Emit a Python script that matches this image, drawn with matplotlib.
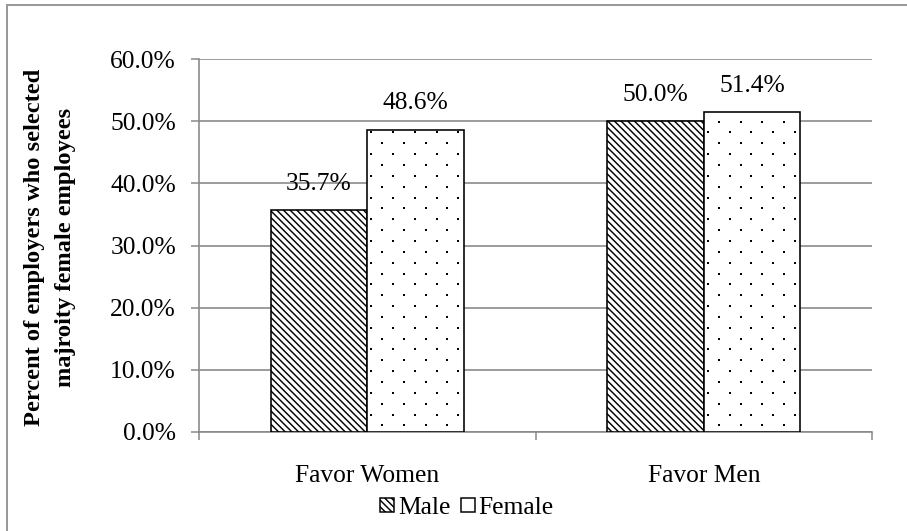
import numpy as np
import matplotlib
matplotlib.use("Agg")
import matplotlib.pyplot as plt
from matplotlib.patches import Rectangle, Patch
from matplotlib.ticker import FixedLocator

# Data
categories = ["Favor Women", "Favor Men"]
series_names = ["Male", "Female"]
male_values = [35.7, 50.0]
female_values = [48.6, 51.4]
ytick_values = [0, 10, 20, 30, 40, 50, 60]
ytick_labels = ["0.0%", "10.0%", "20.0%", "30.0%", "40.0%", "50.0%", "60.0%"]
ylabel_text = "Percent of employers who selected\nmajroity female employees"

DPI = 80
W, H = 907, 531
plt.rcParams["font.family"] = ["Liberation Serif", "DejaVu Serif"]
plt.rcParams["hatch.linewidth"] = 1.3
FS = 23
GRID = "#878787"
HATCH = "\\\\\\\\"

def px(v):
    return v * 72.0 / DPI

fig = plt.figure(figsize=(W / DPI, H / DPI), dpi=DPI)
ax = fig.add_axes([199 / W, 1 - 432 / H, (872 - 199) / W, (432 - 59) / H])

x = np.arange(len(categories))
bw = 0.287

male_bars = ax.bar(x - bw / 2, male_values, bw, facecolor="white",
                   edgecolor="black", hatch=HATCH, linewidth=px(1.6), zorder=3)
female_bars = ax.bar(x + bw / 2, female_values, bw, facecolor="white",
                     edgecolor="black", linewidth=px(1.6), zorder=3)

# dotted fill for the Female bars: staggered grid of small squares
dx, dy = 0.0645, 1.745
for bar in female_bars:
    x0, w = bar.get_x(), bar.get_width()
    top = bar.get_height()
    xs, ys = [], []
    row = 0
    yy = 41.2 - dy * np.ceil(41.2 / dy)
    while yy < top + dy:
        start = x0 + 0.0125 + (dx / 2 if row % 2 else 0)
        cols = np.arange(start - dx, x0 + w + dx, dx)
        xs.extend(cols)
        ys.extend([yy] * len(cols))
        yy += dy
        row += 1
    sc = ax.scatter(xs, ys, s=px(2.4) ** 2, marker="s", color="black",
                    linewidths=0, zorder=4)
    sc.set_clip_path(bar)

# value labels
for bars, vals in ((male_bars, male_values), (female_bars, female_values)):
    for b, v in zip(bars, vals):
        ax.annotate(f"{v:.1f}%", (b.get_x() + b.get_width() / 2, v),
                    xytext=(0, px(20.5)), textcoords="offset points",
                    ha="center", va="baseline", fontsize=FS, zorder=5)

ax.set_xlim(-0.5, len(categories) - 0.5)
ax.set_ylim(0, 60)
ax.set_yticks(ytick_values)
ax.set_yticklabels(ytick_labels, fontsize=FS)
ax.set_xticks(x)
ax.set_xticklabels(categories, fontsize=FS)
ax.xaxis.set_minor_locator(FixedLocator([-0.5, 0.5, 1.5]))
ax.tick_params(axis="x", which="major", length=0, pad=px(33))
ax.tick_params(axis="x", which="minor", length=px(8), width=px(1.5),
               color=GRID, direction="out")
ax.tick_params(axis="y", length=px(8), width=px(1.5), color=GRID,
               pad=px(15))
ax.yaxis.grid(True, color=GRID, linewidth=px(1.6), zorder=0)
ax.set_axisbelow(True)
for s in ("top", "right"):
    ax.spines[s].set_visible(False)
for s in ("left", "bottom"):
    ax.spines[s].set_color(GRID)
    ax.spines[s].set_linewidth(px(1.6))

fig.text(50 / W, 1 - 247 / H, ylabel_text, rotation=90, ha="center",
         va="center", multialignment="center", fontsize=22,
         fontweight="bold", linespacing=1.65)

handles = [Patch(facecolor="white", edgecolor="black", hatch=HATCH,
                 linewidth=px(1.5)),
           Patch(facecolor="white", edgecolor="black", linewidth=px(1.5))]
fig.legend(handles, series_names, loc="center",
           bbox_to_anchor=(467 / W, 1 - 508 / H), ncol=2, frameon=False,
           fontsize=FS, handlelength=0.55, handleheight=0.5,
           handletextpad=0.15, columnspacing=0.4, borderpad=0)

# chart area border
fig.patches.append(Rectangle((7 / W, -0.1), 1.2, 1.1 - 5 / H,
                             transform=fig.transFigure, fill=False,
                             edgecolor="#999999", linewidth=px(2)))

fig.savefig("out.png", dpi=DPI)
